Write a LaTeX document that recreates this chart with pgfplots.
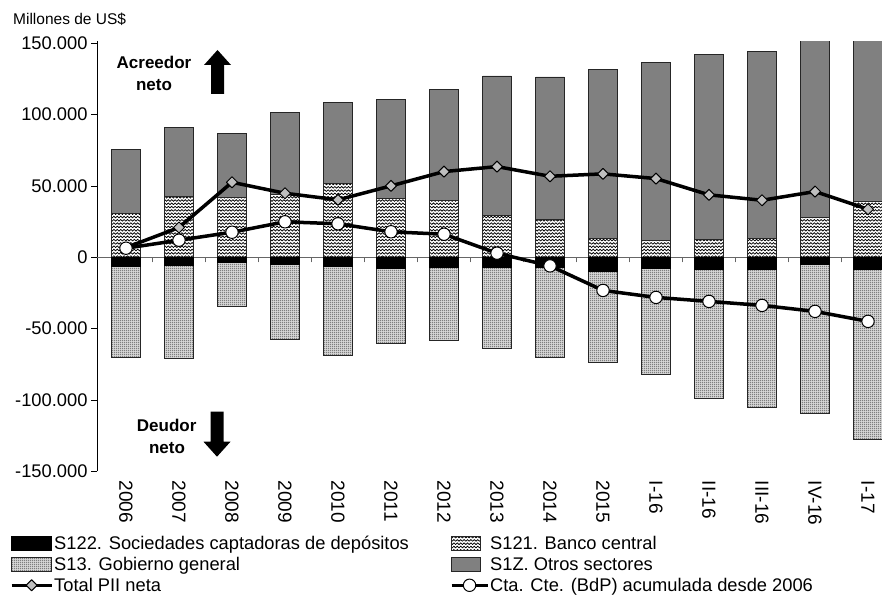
\documentclass[border=0pt]{standalone}
\usepackage{fontspec}
\setmainfont{Liberation Sans}
\newfontfamily\plainsans{Liberation Sans}
\usepackage{pgfplots}
\usepackage{pgfplotstable}
\pgfplotsset{compat=1.18}
\usetikzlibrary{patterns}

\pgfdeclarepatternformonly{zigzag}{\pgfqpoint{-0.5pt}{-0.5pt}}{\pgfqpoint{3.9pt}{3.8pt}}{\pgfqpoint{3.4pt}{3.3pt}}{%
  \pgfsetlinewidth{0.75pt}\pgfsetroundcap
  \pgfpathmoveto{\pgfqpoint{0pt}{0.7pt}}%
  \pgfpathlineto{\pgfqpoint{1.7pt}{2.3pt}}%
  \pgfpathlineto{\pgfqpoint{3.4pt}{0.7pt}}%
  \pgfusepath{stroke}}
\pgfdeclarepatternformonly{finedots}{\pgfpointorigin}{\pgfqpoint{2pt}{2pt}}{\pgfqpoint{2pt}{2pt}}{%
  \pgfpathrectangle{\pgfqpoint{0.5pt}{0.5pt}}{\pgfqpoint{1pt}{1pt}}%
  \pgfusepath{fill}}

\pgfplotstableread{
x  s122   s121   s13     s1z    total  cta
0  -6000  31000  -63800  44700  6800   6400
1  -5700  42400  -65100  48500  20900  12000
2  -3200  41700  -31500  45300  52600  17600
3  -5000  44200  -52200  57400  44900  24900
4  -6200  51900  -62800  56900  40300  23500
5  -7600  41200  -53000  69600  50100  17900
6  -6700  40000  -51600  77900  60100  16200
7  -7100  29500  -56900  97700  63600  2900
8  -7000  26700  -62900  99800  56800  -6000
9  -9900  13400  -63900  118300 58500  -23200
10 -7600  11800  -74200  125100 55200  -28100
11 -8300  12500  -90800  130000 43800  -30900
12 -8300  13400  -96600  130900 40000  -33700
13 -4800  27700  -104300 127000 46100  -37900
14 -8100  39100  -119700 121000 33700  -44900
}\data

\pgfplotsset{
  common/.style={
    at={(97pt,126.7pt)}, anchor=south west,
    scale only axis, width=785pt, height=430.1pt,
    xmin=-0.547, xmax=14.264, ymin=-150000, ymax=151500,
  },
  dotsfill/.style={fill=black!14, postaction={pattern=finedots}},
  barL/.style={legend image code/.code={\draw[##1] (0pt,-7pt) rectangle (40pt,7pt);}},
  barR/.style={legend image code/.code={\draw[##1] (0pt,-7pt) rectangle (29pt,7pt);}},
  lineL/.style={legend image code/.code={\draw[##1, line width=2.8pt, mark repeat=2, mark phase=2] plot coordinates {(0pt,0pt) (20pt,0pt) (40pt,0pt)};}},
  lineR/.style={legend image code/.code={\draw[##1, line width=2.8pt, mark repeat=2, mark phase=2] plot coordinates {(0pt,0pt) (18pt,0pt) (36pt,0pt)};}},
}

\begin{document}
\begin{tikzpicture}
\useasboundingbox (0pt,0pt) rectangle (882pt,598pt);

% positive stacks + axes
\begin{axis}[common,
  ybar stacked, bar width=28.5pt,
  axis y line=left, axis x line=bottom,
  x axis line style={draw=none},
  y axis line style={-, black, line width=0.8pt},
  xtick={0,...,14},
  xticklabels={2006,2007,2008,2009,2010,2011,2012,2013,2014,2015,I-16,II-16,III-16,IV-16,I-17},
  xtick style={draw=none},
  xticklabel style={rotate=-90, anchor=west, font=\plainsans\fontsize{19}{22}\selectfont},
  ytick={-150000,-100000,-50000,0,50000,100000,150000},
  ytick style={black, line width=0.8pt},
  tick align=outside, major tick length=6pt,
  scaled y ticks=false,
  yticklabel style={font=\fontsize{18.3}{21}\selectfont,
    /pgf/number format/.cd, fixed, precision=0, 1000 sep={.}, assume math mode=true},
]
\addplot[pattern=zigzag, draw=black!85, line width=0.7pt] table[x=x, y=s121] {\data};
\addplot[fill=gray, draw=black!85, line width=0.7pt] table[x=x, y=s1z] {\data};
\end{axis}

% negative stacks + zero line
\begin{axis}[common,
  ybar stacked, bar width=28.5pt,
  axis y line=none, axis x line=middle,
  x axis line style={-, draw=black!60, line width=0.8pt},
  xtick={0.5,1.5,...,13.5}, xticklabels={},
  xtick style={draw=black!60, line width=0.8pt},
  tick align=outside, major tick length=5pt,
  ytick=\empty,
]
\addplot[fill=black, draw=black, line width=0.7pt] table[x=x, y=s122] {\data};
\addplot[dotsfill, draw=black!85, line width=0.7pt] table[x=x, y=s13] {\data};
\end{axis}

% lines + legend
\begin{axis}[common, hide axis,
  legend columns=2,
  legend cell align=left,
  legend style={at={(-0.1108,-0.1480)}, anchor=north west, draw=none, fill=none,
    inner sep=0pt, font=\fontsize{18.3}{21}\selectfont, row sep=3.5pt,
    nodes={inner sep=1.2pt},
    /tikz/every even column/.append style={column sep=40pt}},
]
\addlegendimage{barL, fill=black, draw=black, line width=0.7pt}
\addlegendentry{S122. Sociedades captadoras de depósitos}
\addlegendimage{barR, pattern=zigzag, draw=black!85, line width=0.7pt}
\addlegendentry{S121. Banco central}
\addlegendimage{barL, dotsfill, draw=black!85, line width=0.7pt}
\addlegendentry{S13. Gobierno general}
\addlegendimage{barR, fill=gray, draw=black!85, line width=0.7pt}
\addlegendentry{S1Z. Otros sectores}
\addplot[lineL, black, line width=3.5pt, line join=round, mark=square*, mark size=3.9pt,
  mark options={rotate=45, fill=black!25, draw=black, line width=1pt}]
  table[x=x, y=total] {\data};
\addlegendentry{Total PII neta}
\addplot[lineR, black, line width=3.5pt, line join=round, mark=*, mark size=6.2pt,
  mark options={fill=white, draw=black, line width=1pt}]
  table[x=x, y=cta] {\data};
\addlegendentry{Cta. Cte. (BdP) acumulada desde 2006}
\end{axis}

% annotations
\node[anchor=base west, inner sep=0pt, font=\fontsize{15.5}{18}\selectfont] at (13pt,573pt) {Millones de US\$};
\node[anchor=base, inner sep=0pt, font=\bfseries\fontsize{17}{20}\selectfont] at (154pt,529pt) {Acreedor};
\node[anchor=base, inner sep=0pt, font=\bfseries\fontsize{17}{20}\selectfont] at (154pt,507.3pt) {neto};
\node[anchor=base, inner sep=0pt, font=\bfseries\fontsize{17}{20}\selectfont] at (166.7pt,166.3pt) {Deudor};
\node[anchor=base, inner sep=0pt, font=\bfseries\fontsize{17}{20}\selectfont] at (167pt,145pt) {neto};
\fill (217.5pt,548pt) -- (231pt,533pt) -- (224pt,533pt) -- (224pt,504pt) -- (211pt,504pt) -- (211pt,533pt) -- (204pt,533pt) -- cycle;
\fill (217pt,141.3pt) -- (230.5pt,156.3pt) -- (223.5pt,156.3pt) -- (223.5pt,186.3pt) -- (210.5pt,186.3pt) -- (210.5pt,156.3pt) -- (203.5pt,156.3pt) -- cycle;
\end{tikzpicture}
\end{document}
